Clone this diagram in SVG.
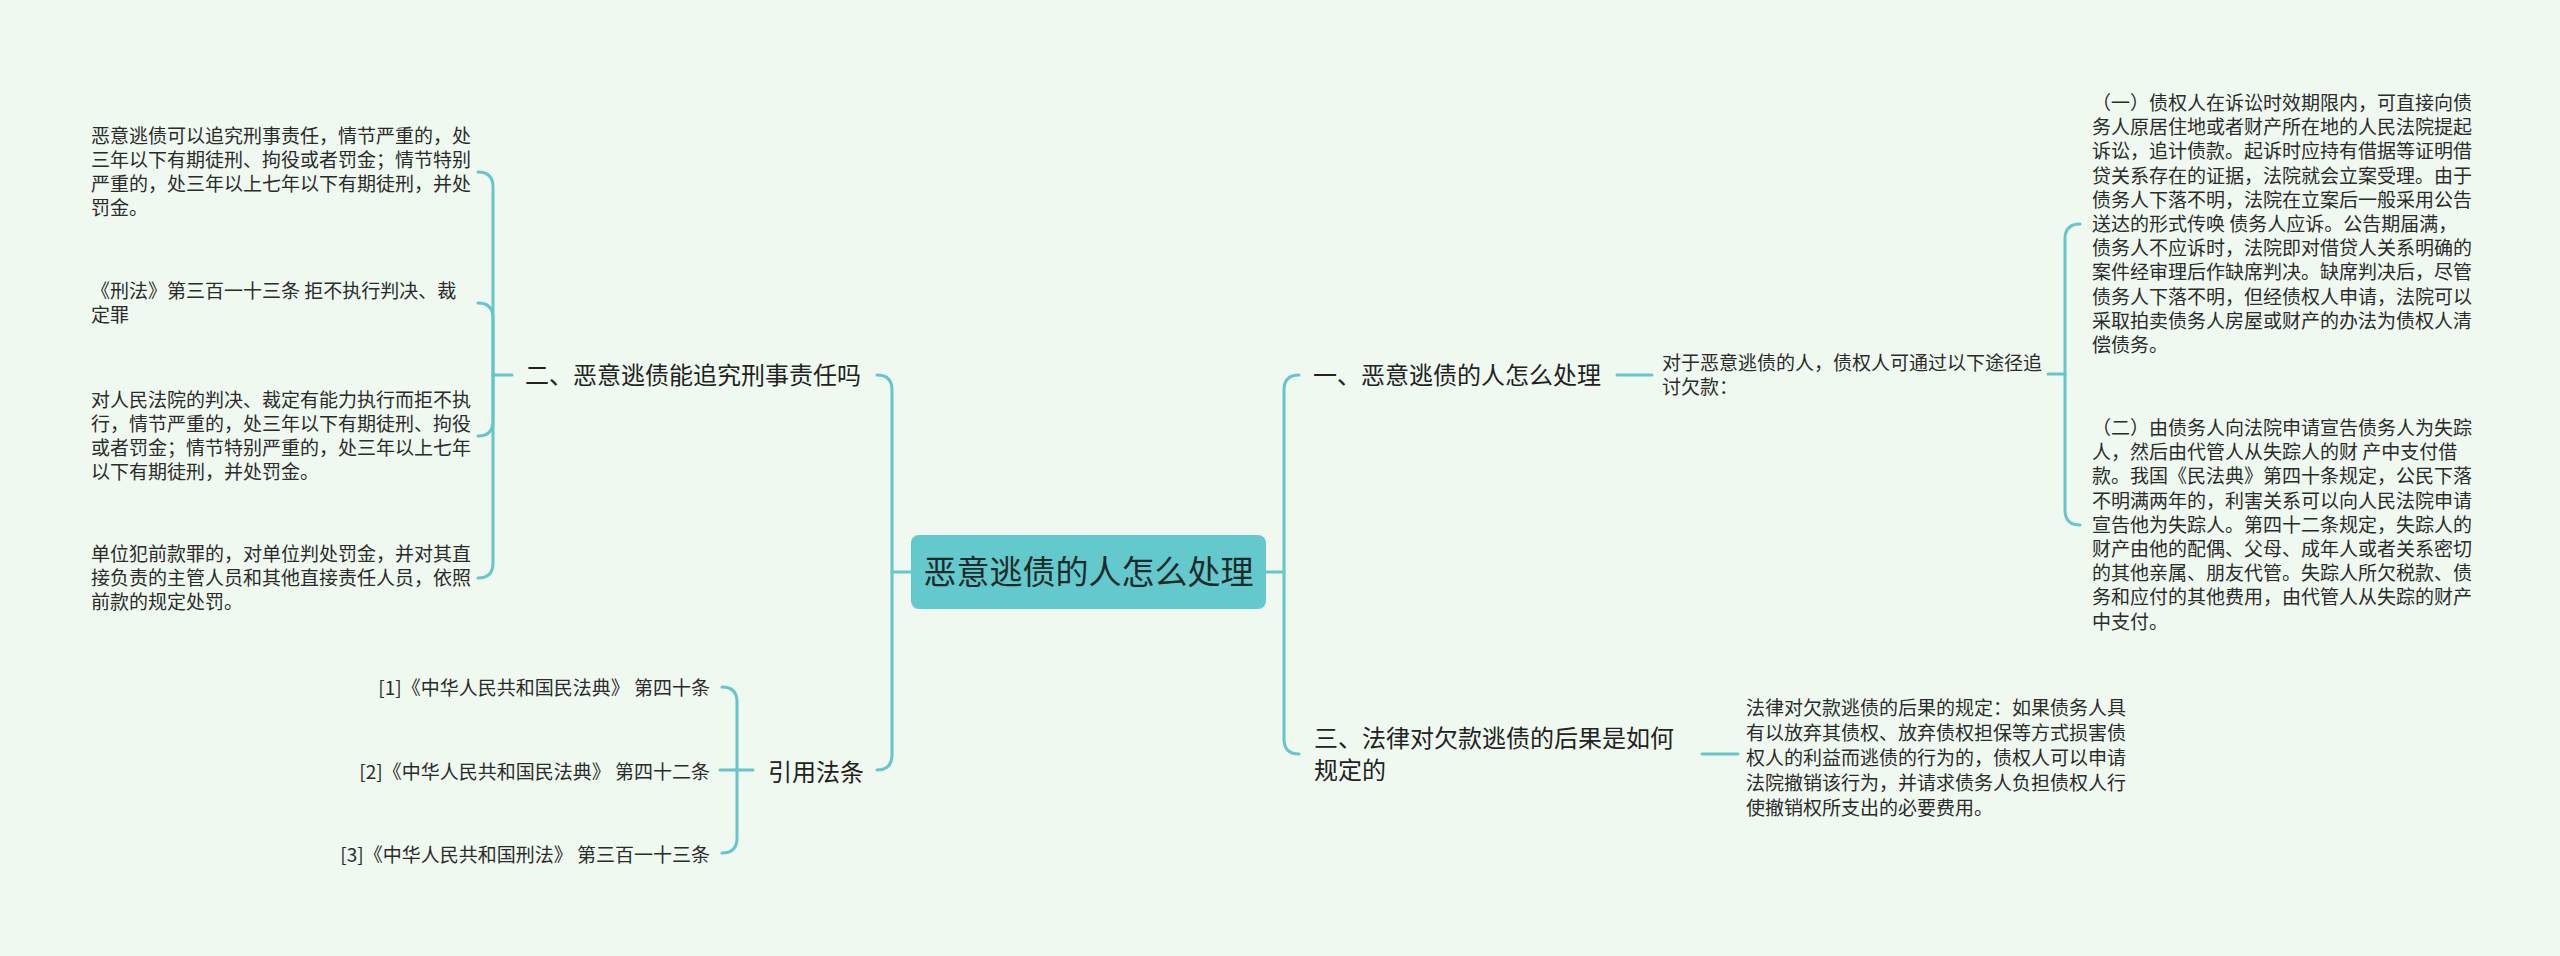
<svg xmlns="http://www.w3.org/2000/svg" width="2560" height="956" viewBox="0 0 2560 956">
<style>
.bg{fill:#eff9f0}
.ln{fill:none;stroke:#67c6c9;stroke-width:3;stroke-linecap:round}
.t{font-family:"Noto Sans CJK SC","Noto Sans",sans-serif;fill:#2b2b2b}
.s{font-size:19px}
.b{font-size:24px;fill:#222}
.r{font-size:33px;fill:#1e2b2b}
</style>
<rect class="bg" x="0" y="0" width="2560" height="956"/>
<g id="connectors">
<path class="ln" d="M911,572 L892,572 L892,390 Q892,375 877,375"/>
<path class="ln" d="M892,572 L892,755 Q892,770 877,770"/>
<path class="ln" d="M1266,572 L1284,572 L1284,390 Q1284,375 1299,375"/>
<path class="ln" d="M1284,572 L1284,739 Q1284,754 1299,754"/>
<path class="ln" d="M512,375 L493,375 L493,187 Q493,172 478,172"/>
<path class="ln" d="M493,375 L493,318 Q493,303 478,303"/>
<path class="ln" d="M493,375 L493,421 Q493,436 478,436"/>
<path class="ln" d="M493,375 L493,563 Q493,578 478,578"/>
<path class="ln" d="M753,770 L737,770 L737,702 Q737,687 722,687"/>
<path class="ln" d="M737,770 L720,770"/>
<path class="ln" d="M737,770 L737,838 Q737,853 722,853"/>
<path class="ln" d="M1617,375 L1652,375"/>
<path class="ln" d="M2048,374 L2065,374 L2065,239 Q2065,224 2080,224"/>
<path class="ln" d="M2065,374 L2065,510 Q2065,525 2080,525"/>
<path class="ln" d="M1702,754 L1738,754"/>
</g>
<g id="root">
<rect x="911" y="535" width="355" height="74" rx="8" fill="#63c9cc"/>
<text class="t r" x="1088.5" y="583.5" text-anchor="middle">恶意逃债的人怎么处理</text>
</g>
<g id="n2">
<text class="t b" x="525" y="384">二、恶意逃债能追究刑事责任吗</text>
</g>
<g id="n2a">
<text class="t s" x="91" y="142.7"><tspan x="91">恶意逃债可以追究刑事责任，情节严重的，处</tspan><tspan x="91" dy="24.2">三年以下有期徒刑、拘役或者罚金；情节特别</tspan><tspan x="91" dy="24.2">严重的，处三年以上七年以下有期徒刑，并处</tspan><tspan x="91" dy="24.2">罚金。</tspan></text>
</g>
<g id="n2b">
<text class="t s" x="91" y="298"><tspan x="91">《刑法》第三百一十三条 拒不执行判决、裁</tspan><tspan x="91" dy="24.2">定罪</tspan></text>
</g>
<g id="n2c">
<text class="t s" x="91" y="406.7"><tspan x="91">对人民法院的判决、裁定有能力执行而拒不执</tspan><tspan x="91" dy="24.2">行，情节严重的，处三年以下有期徒刑、拘役</tspan><tspan x="91" dy="24.2">或者罚金；情节特别严重的，处三年以上七年</tspan><tspan x="91" dy="24.2">以下有期徒刑，并处罚金。</tspan></text>
</g>
<g id="n2d">
<text class="t s" x="91" y="560.8"><tspan x="91">单位犯前款罪的，对单位判处罚金，并对其直</tspan><tspan x="91" dy="24.2">接负责的主管人员和其他直接责任人员，依照</tspan><tspan x="91" dy="24.2">前款的规定处罚。</tspan></text>
</g>
<g id="refs">
<text class="t b" x="768" y="780.5">引用法条</text>
</g>
<g id="ref1"><text class="t s" x="710" y="695" text-anchor="end">[1]《中华人民共和国民法典》 第四十条</text></g>
<g id="ref2"><text class="t s" x="710" y="779" text-anchor="end">[2]《中华人民共和国民法典》 第四十二条</text></g>
<g id="ref3"><text class="t s" x="710" y="862" text-anchor="end">[3]《中华人民共和国刑法》 第三百一十三条</text></g>
<g id="n1">
<text class="t b" x="1313" y="383.5">一、恶意逃债的人怎么处理</text>
</g>
<g id="n1a">
<text class="t s" x="1662" y="370"><tspan x="1662">对于恶意逃债的人，债权人可通过以下途径追</tspan><tspan x="1662" dy="24.2">讨欠款：</tspan></text>
</g>
<g id="n1a1">
<text class="t s" x="2092" y="110"><tspan x="2092">（一）债权人在诉讼时效期限内，可直接向债</tspan><tspan x="2092" dy="24.2">务人原居住地或者财产所在地的人民法院提起</tspan><tspan x="2092" dy="24.2">诉讼，追计债款。起诉时应持有借据等证明借</tspan><tspan x="2092" dy="24.2">贷关系存在的证据，法院就会立案受理。由于</tspan><tspan x="2092" dy="24.2">债务人下落不明，法院在立案后一般采用公告</tspan><tspan x="2092" dy="24.2">送达的形式传唤 债务人应诉。公告期届满，</tspan><tspan x="2092" dy="24.2">债务人不应诉时，法院即对借贷人关系明确的</tspan><tspan x="2092" dy="24.2">案件经审理后作缺席判决。缺席判决后，尽管</tspan><tspan x="2092" dy="24.2">债务人下落不明，但经债权人申请，法院可以</tspan><tspan x="2092" dy="24.2">采取拍卖债务人房屋或财产的办法为债权人清</tspan><tspan x="2092" dy="24.2">偿债务。</tspan></text>
</g>
<g id="n1a2">
<text class="t s" x="2092" y="435"><tspan x="2092">（二）由债务人向法院申请宣告债务人为失踪</tspan><tspan x="2092" dy="24.2">人，然后由代管人从失踪人的财 产中支付借</tspan><tspan x="2092" dy="24.2">款。我国《民法典》第四十条规定，公民下落</tspan><tspan x="2092" dy="24.2">不明满两年的，利害关系可以向人民法院申请</tspan><tspan x="2092" dy="24.2">宣告他为失踪人。第四十二条规定，失踪人的</tspan><tspan x="2092" dy="24.2">财产由他的配偶、父母、成年人或者关系密切</tspan><tspan x="2092" dy="24.2">的其他亲属、朋友代管。失踪人所欠税款、债</tspan><tspan x="2092" dy="24.2">务和应付的其他费用，由代管人从失踪的财产</tspan><tspan x="2092" dy="24.2">中支付。</tspan></text>
</g>
<g id="n3">
<text class="t b" x="1314" y="746.5"><tspan x="1314">三、法律对欠款逃债的后果是如何</tspan><tspan x="1314" dy="32">规定的</tspan></text>
</g>
<g id="n3a">
<text class="t s" x="1746" y="714.6"><tspan x="1746">法律对欠款逃债的后果的规定：如果债务人具</tspan><tspan x="1746" dy="25">有以放弃其债权、放弃债权担保等方式损害债</tspan><tspan x="1746" dy="25">权人的利益而逃债的行为的，债权人可以申请</tspan><tspan x="1746" dy="25">法院撤销该行为，并请求债务人负担债权人行</tspan><tspan x="1746" dy="25">使撤销权所支出的必要费用。</tspan></text>
</g>
</svg>
